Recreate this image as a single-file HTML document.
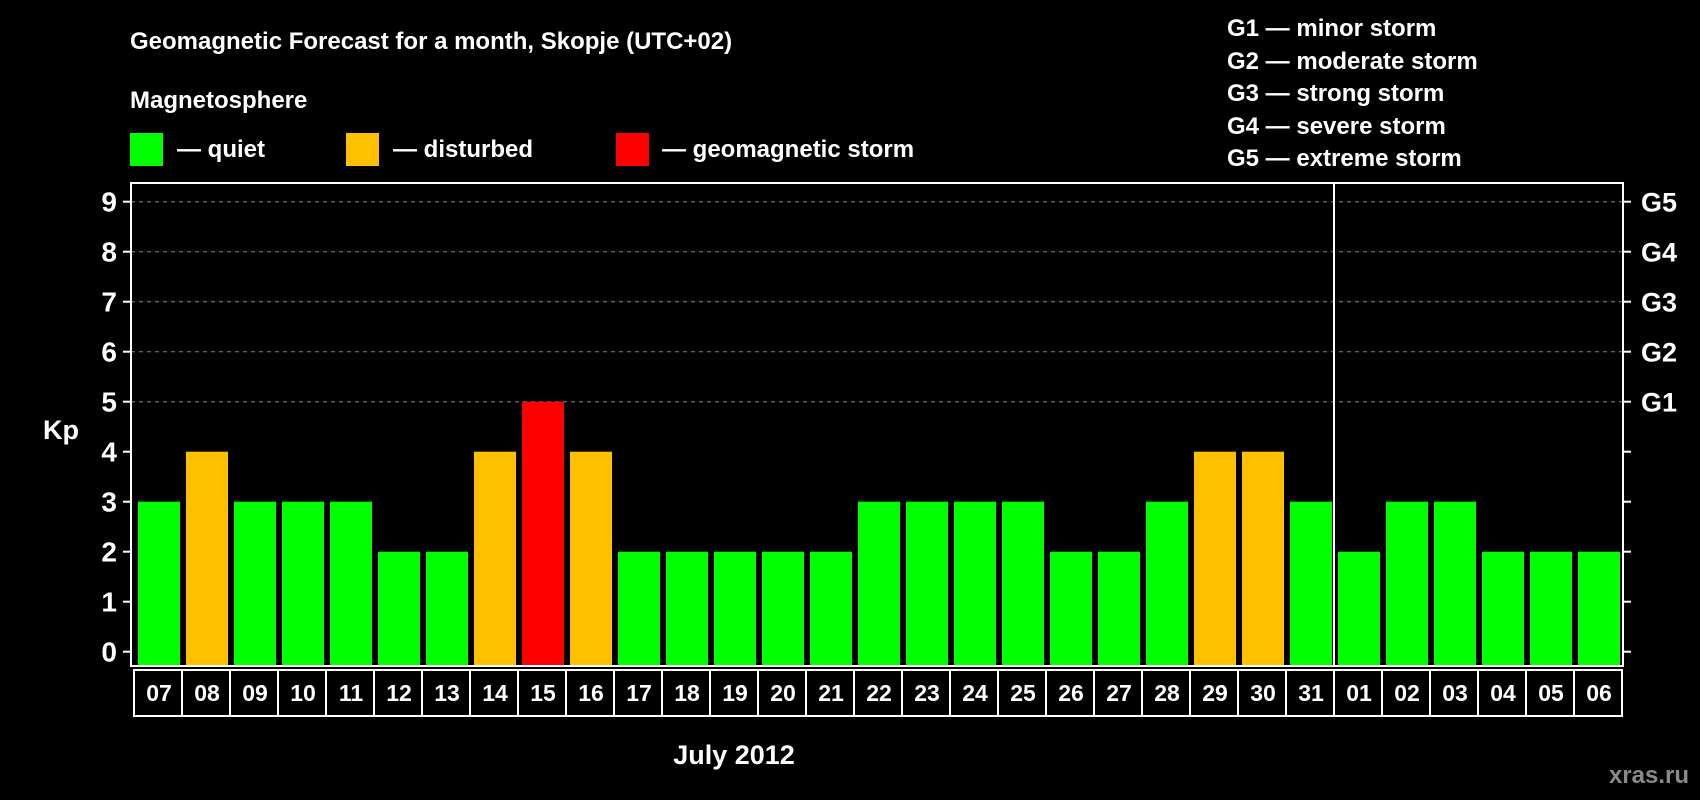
<!DOCTYPE html>
<html><head><meta charset="utf-8"><style>
html,body{margin:0;padding:0;background:#000;width:1700px;height:800px;overflow:hidden}
svg text{font-family:"Liberation Sans",sans-serif;font-weight:bold;fill:#fff}
</style></head><body>
<svg id="c" width="1700" height="800" viewBox="0 0 1700 800" xmlns="http://www.w3.org/2000/svg">
<rect width="1700" height="800" fill="#000"/>
<text x="130" y="49" font-size="24">Geomagnetic Forecast for a month, Skopje (UTC+02)</text>
<text x="130" y="108" font-size="24">Magnetosphere</text>
<rect x="130" y="133" width="33" height="33" fill="#00ff00"/>
<text x="177" y="157" font-size="24">— quiet</text>
<rect x="346" y="133" width="33" height="33" fill="#ffc000"/>
<text x="393" y="157" font-size="24">— disturbed</text>
<rect x="616" y="133" width="33" height="33" fill="#ff0000"/>
<text x="662" y="157" font-size="24">— geomagnetic storm</text>
<g font-size="24">
<text x="1227" y="36">G1 — minor storm</text>
<text x="1227" y="69">G2 — moderate storm</text>
<text x="1227" y="101">G3 — strong storm</text>
<text x="1227" y="134">G4 — severe storm</text>
<text x="1227" y="166">G5 — extreme storm</text>
</g>
<text x="43" y="439" font-size="27">Kp</text>
<text x="734" y="764" font-size="27" text-anchor="middle">July 2012</text>
<text x="1689" y="783" font-size="24" text-anchor="end" style="fill:#8a8a8a">xras.ru</text>
<g id="grid"></g><g id="bars"></g><g id="axes"></g><g id="labels"></g>
</svg>
<script>
const days=["07","08","09","10","11","12","13","14","15","16","17","18","19","20","21","22","23","24","25","26","27","28","29","30","31","01","02","03","04","05","06"];
const kp=[3,4,3,3,3,2,2,4,5,4,2,2,2,2,2,3,3,3,3,2,2,3,4,4,3,2,3,3,2,2,2];
const yTicks=[0,1,2,3,4,5,6,7,8,9];
const gLabels=["G1","G2","G3","G4","G5"];
const gLevels=[5,6,7,8,9];
const NS="http://www.w3.org/2000/svg";
const L=131,R=1623,T=183,B=666,x0=138,step=48,bw=42;
const y=v=>651.7-v*50;
const x=i=>x0+i*step;
function mk(t,a,p){const e=document.createElementNS(NS,t);for(const k in a)e.setAttribute(k,a[k]);p.appendChild(e);return e;}
const grid=document.getElementById('grid'),bars=document.getElementById('bars'),axes=document.getElementById('axes'),labels=document.getElementById('labels');
yTicks.forEach(v=>{
 if(v>=5){const g=mk('line',{x1:L,x2:R,y1:y(v),y2:y(v),stroke:'#888','stroke-width':1,'stroke-dasharray':'4 4'},grid);
 
 }
 const t1=mk('line',{x1:L-8,x2:L,y1:y(v),y2:y(v),stroke:'#fff','stroke-width':2},axes);
 
 
 const t2=mk('line',{x1:R,x2:R+8,y1:y(v),y2:y(v),stroke:'#fff','stroke-width':2},axes);
 
 
 const tx=mk('text',{x:L-14,y:y(v)+10,'font-size':28,'text-anchor':'end'},axes);
 tx.textContent=v;
 
 
});
gLabels.forEach((g,i)=>{
 const tx=mk('text',{x:R+18,y:y(gLevels[i])+10,'font-size':27},axes);
 tx.textContent=g;
 
 
});
kp.forEach((v,i)=>{
 const c=v>=5?'#ff0000':(v>=4?'#ffc000':'#00ff00');
 const r=mk('rect',{x:x(i),y:y(v),width:bw,height:(B-y(v)),fill:c},bars);
 
 
 const b=mk('rect',{x:x(i)-4,y:670,width:step,height:46,fill:'none',stroke:'#fff','stroke-width':2},labels);
 
 
 const t=mk('text',{x:x(i)+bw/2,y:701,'font-size':23,'text-anchor':'middle'},labels);
 t.textContent=days[i];
 
 
});
const frame=mk('rect',{x:L,y:T,width:R-L,height:B-T,fill:'none',stroke:'#fff','stroke-width':2},axes);


const sep=mk('line',{x1:x(25)-4,x2:x(25)-4,y1:T,y2:B,stroke:'#fff','stroke-width':2},axes);


</script>
</body></html>
